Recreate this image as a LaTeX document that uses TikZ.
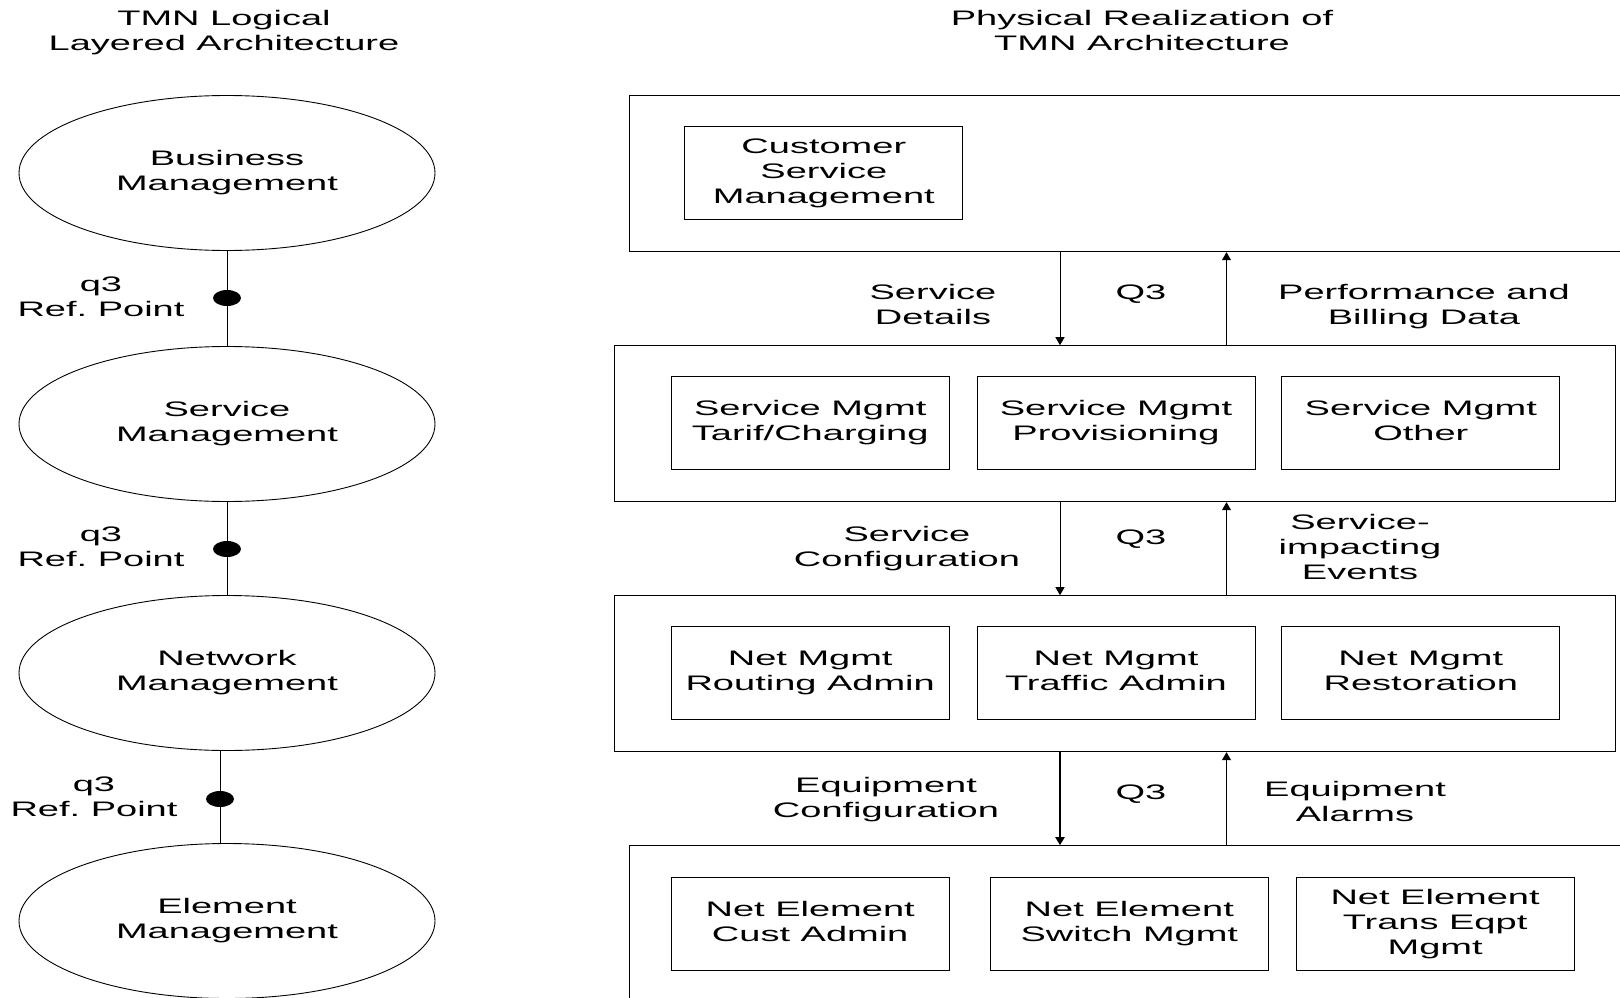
\documentclass[tikz,border=0pt]{standalone}
\usepackage{fontspec}
\setmainfont{Liberation Sans}[FakeStretch=1.81]
\usetikzlibrary{shapes.geometric,arrows.meta}
\begin{document}
\begin{tikzpicture}[x=1pt,y=-1pt,
  every node/.style={font=\fontsize{21}{25}\selectfont, align=center, inner sep=0pt, text=black},
  txt/.style={execute at begin node={\rule{0pt}{16pt}}, execute at end node={\rule[-5pt]{0pt}{5pt}}},
  layer/.style={txt, draw, ellipse, minimum width=416pt, minimum height=155pt, line width=0.9pt},
  panel/.style={draw, rectangle, line width=1pt},
  fnbox/.style={txt, draw, rectangle, minimum width=278pt, minimum height=93pt, line width=1pt},
  refdot/.style={fill=black, ellipse, minimum width=28pt, minimum height=16pt},
  link/.style={line width=1pt},
  flow/.style={line width=1pt, -{Triangle[length=8pt,width=9pt]}},
]
\useasboundingbox (0,0) rectangle (1620,998);
\begin{scope}
\clip (0,0) rectangle (1620,998);

% titles
\node[txt] (tl) at (224,33) {TMN Logical\\Layered Architecture};
\node[txt] (tr) at (1142,33) {Physical Realization of\\TMN Architecture};

% left: logical layers
\node[layer] (bm) at (227,173) {Business\\Management};
\node[layer] (sm) at (227,424) {Service\\Management};
\node[layer] (nm) at (227,673) {Network\\Management};
\node[layer] (em) at (227,921) {Element\\Management};

\coordinate (c3) at (220,0);
\draw[link] (bm.south) -- (sm.north);
\draw[link] (sm.south) -- (nm.north);
\draw[link] (nm.south -| c3) -- (em.north -| c3);

\node[refdot] (d1) at (227,298) {};
\node[refdot] (d2) at (227,549) {};
\node[refdot] (d3) at (220,799) {};

\node[txt] (q1) at (101,299) {q3\\Ref.\ Point};
\node[txt] (q2) at (101,549) {q3\\Ref.\ Point};
\node[txt] (q3) at (94,799) {q3\\Ref.\ Point};

% right: physical panels
\node[panel, minimum width=1010.7pt, minimum height=156.7pt] (p1) at (1134.65,173.35) {};
\node[panel, minimum width=1000.7pt, minimum height=156pt] (p2) at (1114.65,423.7) {};
\node[panel, minimum width=1000.7pt, minimum height=156pt] (p3) at (1114.65,673.7) {};
\node[panel, minimum width=1010.7pt, minimum height=164.3pt] (p4) at (1134.65,927.85) {};

\node[fnbox] (csm) at (823.8,173.4) {Customer\\Service\\Management};

\node[fnbox] (s1) at (810.2,423.3) {Service Mgmt\\Tarif/Charging};
\node[fnbox] (s2) at (1116,423.3) {Service Mgmt\\Provisioning};
\node[fnbox] (s3) at (1420.8,423.3) {Service Mgmt\\Other};

\node[fnbox] (n1) at (810.2,673.3) {Net Mgmt\\Routing Admin};
\node[fnbox] (n2) at (1116,673.3) {Net Mgmt\\Traffic Admin};
\node[fnbox] (n3) at (1420.8,673.3) {Net Mgmt\\Restoration};

\node[fnbox] (e1) at (810.2,924) {Net Element\\Cust Admin};
\node[fnbox] (e2) at (1129.3,924) {Net Element\\Switch Mgmt};
\node[fnbox] (e3) at (1435.1,924) {Net Element\\Trans Eqpt\\Mgmt};

% flows
\coordinate (ad) at (1060,0);
\coordinate (au) at (1226.5,0);
\draw[flow] (p1.south -| ad) -- (p2.north -| ad);
\draw[flow] (p2.north -| au) -- (p1.south -| au);
\draw[flow] (p2.south -| ad) -- (p3.north -| ad);
\draw[flow] (p3.north -| au) -- (p2.south -| au);
\draw[flow, line width=2pt] (p3.south -| ad) -- (p4.north -| ad);
\draw[flow] (p4.north -| au) -- (p3.south -| au);

% flow labels
\node[txt] (l1) at (933,306.5) {Service\\Details};
\node[txt] (l2) at (1141,294) {Q3};
\node[txt] (l3) at (1424,306.5) {Performance and\\Billing Data};

\node[txt] (l4) at (907,548.5) {Service\\Configuration};
\node[txt] (l5) at (1141,539) {Q3};
\node[txt] (l6) at (1360,549) {Service-\\impacting\\Events};

\node[txt] (l7) at (886,800) {Equipment\\Configuration};
\node[txt] (l8) at (1141,794) {Q3};
\node[txt] (l9) at (1355,803.5) {Equipment\\Alarms};
\end{scope}
\end{tikzpicture}
\end{document}
